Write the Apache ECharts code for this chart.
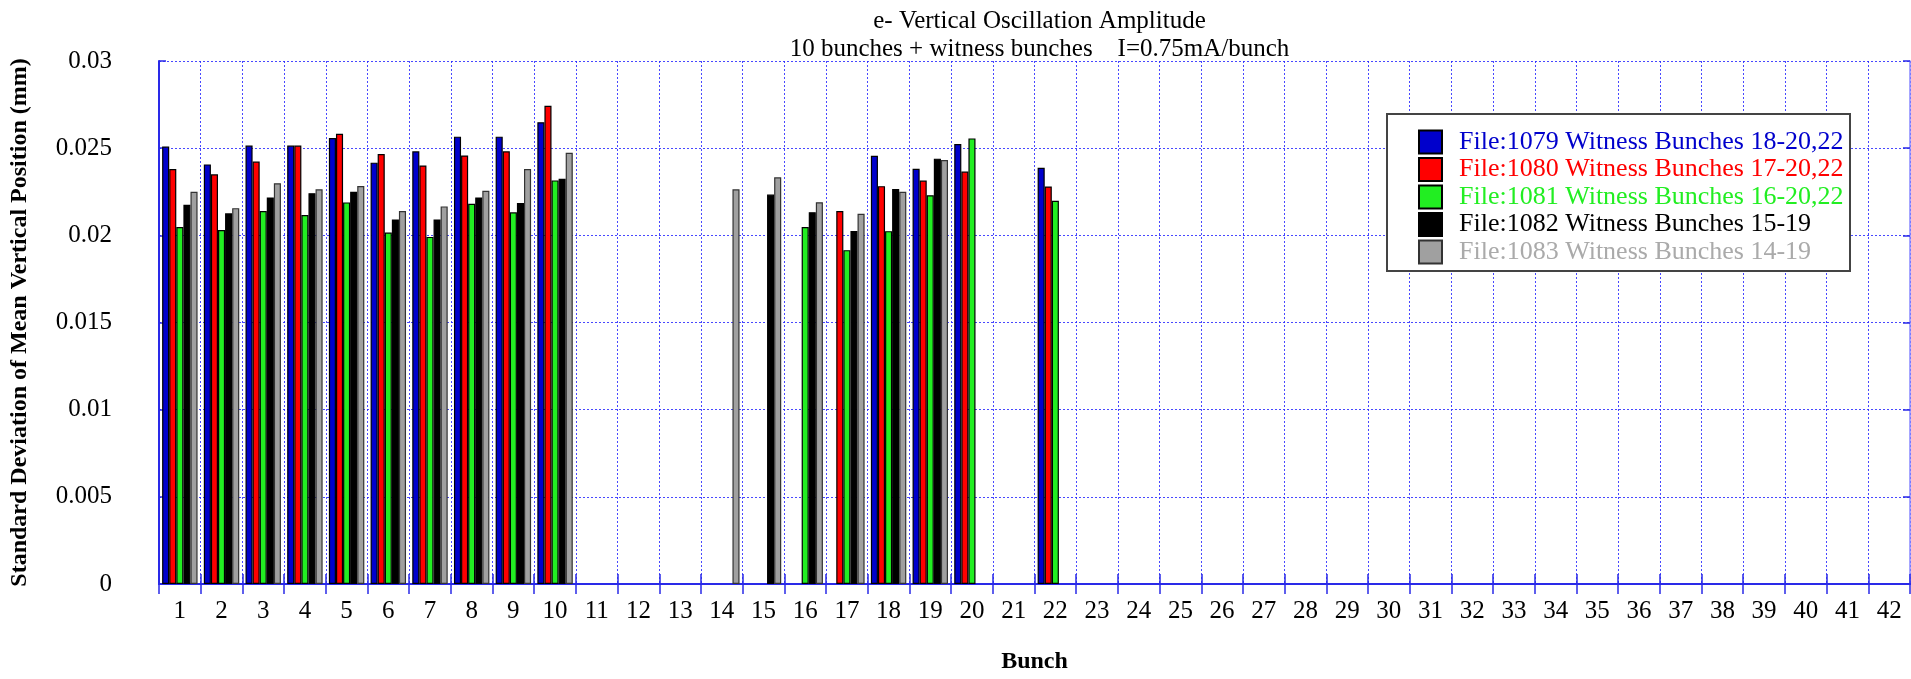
<!DOCTYPE html>
<html>
<head>
<meta charset="utf-8">
<script src="https://cdn.jsdelivr.net/npm/echarts@6/dist/echarts.min.js"></script>
<style>
html,body{margin:0;padding:0;background:#fff;}
#chart{width:1911px;height:679px;}
</style>
</head>
<body>
<div id="chart"></div>
<script>
// Categories (bunch numbers)
var categories = [];
for (var i = 1; i <= 42; i++) categories.push(String(i));

// Series values (bunches 1..22; bunches 23..42 are empty)
var f1079 = [0.02509,0.02407,0.02515,0.02515,0.02558,0.02417,0.02482,0.02566,0.02566,0.02649,null,null,null,null,null,null,null,0.02456,0.02382,0.02524,null,0.02388];
var f1080 = [0.02380,0.02350,0.02423,0.02515,0.02582,0.02466,0.02401,0.02458,0.02482,0.02743,null,null,null,null,null,null,0.02140,0.02282,0.02314,0.02366,null,0.02280];
var f1081 = [0.02048,0.02030,0.02140,0.02116,0.02189,0.02016,0.01991,0.02181,0.02132,0.02315,null,null,null,null,null,0.02048,0.01915,0.02024,0.02230,0.02556,null,0.02198];
var f1082 = [0.02175,0.02126,0.02217,0.02242,0.02250,0.02091,0.02091,0.02217,0.02185,0.02325,null,null,null,null,0.02234,0.02133,0.02025,0.02266,0.02440,null,null,null];
var f1083 = [0.02250,0.02156,0.02299,0.02264,0.02283,0.02140,0.02166,0.02256,0.02380,0.02474,null,null,null,0.02264,0.02333,0.02190,0.02124,0.02250,0.02432,null,null,null];

var seriesNames = [
  'File:1079 Witness Bunches 18-20,22',
  'File:1080 Witness Bunches 17-20,22',
  'File:1081 Witness Bunches 16-20,22',
  'File:1082 Witness Bunches 15-19',
  'File:1083 Witness Bunches 14-19'
];
var seriesData = [f1079, f1080, f1081, f1082, f1083];
var barColors = ['#0000cc', '#ff0000', '#22ee22', '#000000', '#a0a0a0'];
var textColors = ['#0000cc', '#ff0000', '#22ee22', '#000000', '#aaaaaa'];
var yTicks = ['0', '0.005', '0.01', '0.015', '0.02', '0.025', '0.03'];

function pad(arr) {
  var out = arr.slice();
  while (out.length < categories.length) out.push(null);
  return out;
}

var FONT = "'Liberation Serif', 'DejaVu Serif', serif";
var BLUE = '#2a2ae8';
var GRIDC = 'rgba(40,40,255,0.85)';

var chart = echarts.init(document.getElementById('chart'), null, {renderer: 'canvas'});

var series = seriesNames.map(function (name, k) {
  return {
    name: name,
    type: 'bar',
    data: pad(seriesData[k]),
    xAxisIndex: 0,
    yAxisIndex: 0,
    barGap: '0%',
    barCategoryGap: '15%',
    itemStyle: {
      color: barColors[k],
      borderColor: k === 4 ? '#333333' : '#000000',
      borderWidth: 1.2
    },
    z: 2
  };
});

var option = {
  backgroundColor: '#ffffff',
  animation: false,
  title: {
    text: 'e- Vertical Oscillation Amplitude\n10 bunches + witness bunches    I=0.75mA/bunch',
    left: 1034.5,
    textAlign: 'center',
    top: 2,
    textStyle: {
      fontFamily: FONT,
      fontSize: 25,
      fontWeight: 'normal',
      color: '#000',
      lineHeight: 28
    }
  },
  graphic: [{
    type: 'rect',
    z: 3,
    shape: {x: 1387, y: 114, width: 463, height: 157},
    style: {fill: '#ffffff', stroke: '#444444', lineWidth: 2}
  }],
  legend: {
    orient: 'vertical',
    left: 1413,
    top: 124,
    itemWidth: 23,
    itemHeight: 23,
    itemGap: 1.5,
    z: 5,
    icon: 'rect',
    selectedMode: false,
    textStyle: {
      fontFamily: FONT,
      fontSize: 26,
      padding: [0, 0, 0, 12]
    },
    data: seriesNames.map(function (n, k) {
      return {name: n, textStyle: {color: textColors[k]}};
    })
  },
  grid: {
    left: 159,
    right: 1,
    top: 61,
    bottom: 91,
    containLabel: false
  },
  xAxis: [{
    type: 'category',
    data: categories,
    position: 'bottom',
    name: 'Bunch',
    nameLocation: 'middle',
    nameGap: 66,
    nameTextStyle: {fontFamily: FONT, fontSize: 24, fontWeight: 'bold', color: '#000', verticalAlign: 'top'},
    axisLine: {show: true, lineStyle: {color: BLUE, width: 2}},
    axisTick: {show: true, inside: true, length: 10, lineStyle: {color: BLUE, width: 1.5}},
    axisLabel: {fontFamily: FONT, fontSize: 25, color: '#000', margin: 15, interval: 0},
    splitLine: {show: true, interval: 0, lineStyle: {color: GRIDC, width: 1, type: [2, 2]}}
  }, {
    type: 'category',
    data: categories,
    position: 'top',
    axisLine: {show: true, lineStyle: {color: BLUE, width: 2}},
    axisTick: {show: true, inside: true, length: 10, interval: 0, lineStyle: {color: BLUE, width: 1.5}},
    axisLabel: {show: false},
    splitLine: {show: false}
  }],
  yAxis: [{
    type: 'value',
    min: 0,
    max: 0.03,
    interval: 0.005,
    position: 'left',
    name: 'Standard Deviation of Mean Vertical Position (mm)',
    nameLocation: 'middle',
    nameRotate: 90,
    nameGap: 127,
    nameTextStyle: {fontFamily: FONT, fontSize: 24, fontWeight: 'bold', color: '#000'},
    axisLine: {show: true, lineStyle: {color: BLUE, width: 2}},
    axisTick: {show: true, inside: true, length: 7, lineStyle: {color: BLUE, width: 1.5}},
    axisLabel: {
      fontFamily: FONT, fontSize: 25, color: '#000', margin: 47,
      formatter: function (v) {
        var idx = Math.round(v / 0.005);
        return yTicks[idx] !== undefined ? yTicks[idx] : String(v);
      }
    },
    splitLine: {show: true, lineStyle: {color: GRIDC, width: 1, type: [2, 2]}}
  }, {
    type: 'value',
    min: 0,
    max: 0.03,
    interval: 0.005,
    position: 'right',
    axisLine: {show: true, lineStyle: {color: '#8888ff', width: 1.5}},
    axisTick: {show: true, inside: true, length: 7, lineStyle: {color: BLUE, width: 1.5}},
    axisLabel: {show: false},
    splitLine: {show: false}
  }],
  series: series
};

chart.setOption(option);
</script>
</body>
</html>
